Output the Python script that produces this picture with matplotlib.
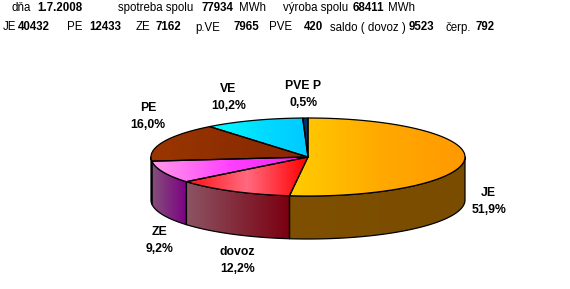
import numpy as np
import matplotlib.pyplot as plt
from matplotlib.patches import Polygon
from matplotlib.colors import LinearSegmentedColormap

plt.rcParams["font.family"] = ["Liberation Sans", "DejaVu Sans"]

# ---------- data ----------
date = "1.7.2008"
spotreba = 77934
vyroba = 68411

# header line 2 (MWh)
src_names = ["JE", "PE", "ZE", "p.VE", "PVE", "saldo ( dovoz )", "čerp."]
src_values = [40432, 12433, 7162, 7965, 420, 9523, 792]

# pie slices, clockwise from 12 o'clock
slice_labels = ["JE", "dovoz", "ZE", "PE", "VE", "PVE P"]
slice_values = [40432, 9523, 7162, 12433, 7965, 420]

# ---------- styling / layout ----------
top_colors = [["#FFCC00", "#FFAA00", "#FF9900"],
              ["#FF1010", "#FF6A80", "#FF0000"],
              ["#FF9AE8", "#FF40FF", "#F020F0"],
              ["#9A3600", "#8E2E00", "#8A2800"],
              ["#00FFFF", "#00DDFF", "#00C8FF"],
              ["#003366", "#003366", "#003366"]]
side_colors = [["#7F5000", "#7A4C00"],
               ["#8C5464", "#7A0010"],
               ["#84507A", "#7C0084"],
               ["#6E2400", "#6E2400"],
               ["#0090B0", "#0090B0"],
               ["#002040", "#002040"]]
label_offsets = [(24, -1), (5, 26), (-4, 25), (-15, -26), (-25, -23), (-2, -24)]

cx, cy, a, b, depth = 308, 157, 157, 39, 43
W, H = 570, 289


def fill_grad(ax, verts, colors, z):
    poly = Polygon(verts, closed=True, facecolor="none", edgecolor="black",
                   lw=0.9, zorder=z + 0.5, joinstyle="round")
    ax.add_patch(poly)
    x0, y0 = verts.min(axis=0)
    x1, y1 = verts.max(axis=0)
    cmap = LinearSegmentedColormap.from_list("g", colors)
    img = ax.imshow(np.linspace(0, 1, 128)[None, :], cmap=cmap,
                    extent=[x0, x1, y1, y0], aspect="auto",
                    interpolation="bilinear", zorder=z)
    img.set_clip_path(poly)


def ell(t, yc):
    return np.c_[cx + a * np.cos(t), yc - b * np.sin(t)]


fig = plt.figure(figsize=(W / 100, H / 100), dpi=100)
ax = fig.add_axes([0, 0, 1, 1])

total = sum(slice_values)
shares = np.array(slice_values) / total
ends = 90 - 360 * np.cumsum(shares)
starts = np.r_[90, ends[:-1]]

for i in range(len(slice_values)):
    t0, t1 = starts[i], ends[i]
    # top wedge
    ts = np.radians(np.linspace(t0, t1, 120))
    verts = np.vstack([[cx, cy], ell(ts, cy)])
    fill_grad(ax, verts, top_colors[i], 3)
    # front wall (visible part between 180 and 360 deg)
    lo, hi = max(min(t0, t1), -180), min(max(t0, t1), 0)
    if hi > lo:
        ts = np.radians(np.linspace(hi, lo, 120))
        wall = np.vstack([ell(ts, cy), ell(ts[::-1], cy + depth)])
        fill_grad(ax, wall, side_colors[i], 1)

    # labels
    mid = np.radians((t0 + t1) / 2)
    yc = cy + depth if np.sin(mid) < 0 else cy
    px, py = ell(np.array([mid]), yc)[0]
    dx, dy = label_offsets[i]
    pct = f"{shares[i] * 100:.1f}%".replace(".", ",")
    ax.text(px + dx, py + dy - 8.5, slice_labels[i], ha="center", va="center",
            fontsize=8.8, fontweight="bold")
    ax.text(px + dx, py + dy + 8.5, pct, ha="center", va="center",
            fontsize=8.8, fontweight="bold")

# header
line1 = [("dňa", "normal"), (date, "bold"), ("spotreba spolu", "normal"),
         (str(spotreba), "bold"), ("MWh", "normal"), ("výroba spolu", "normal"),
         (str(vyroba), "bold"), ("MWh", "normal")]
x1_pos = [12, 37, 118, 202, 239, 283, 353, 388]
for (s, w), x in zip(line1, x1_pos):
    ax.text(x, 11, s, fontsize=8.3, fontweight=w, va="baseline", ha="left")

line2 = []
for n, v in zip(src_names, src_values):
    line2 += [(n, "normal"), (str(v), "bold")]
x2_pos = [3, 18, 67, 89, 136, 156, 195, 233, 269, 304, 330, 409, 446, 476]
for (s, w), x in zip(line2, x2_pos):
    ax.text(x, 30.5, s, fontsize=8.3, fontweight=w, va="baseline", ha="left")

ax.set_xlim(0, W)
ax.set_ylim(H, 0)
ax.axis("off")
fig.savefig("out.png", dpi=100)
